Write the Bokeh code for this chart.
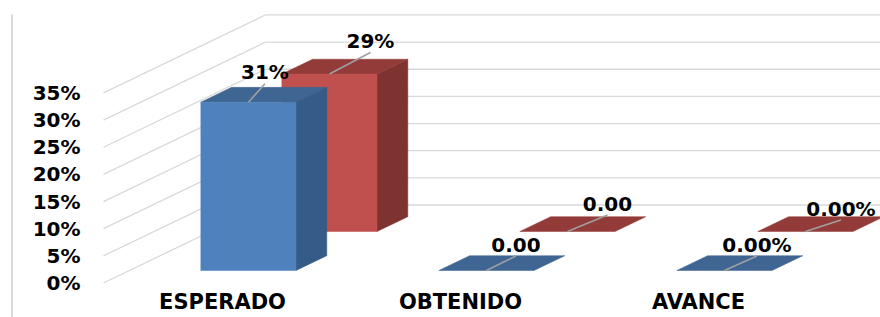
from bokeh.plotting import figure
from bokeh.models import Range1d
from bokeh.core.properties import value
from bokeh.embed import file_html
from bokeh.resources import INLINE

# ---------------- data ----------------
categories = ["ESPERADO", "OBTENIDO", "AVANCE"]
series_a = [31.0, 0.0, 0.0]      # front (blue) series, percent
series_b = [29.0, 0.0, 0.0]      # back (red) series, percent
labels_a = ["31%", "0.00", "0.00%"]
labels_b = ["29%", "0.00", "0.00%"]
y_ticks = [0, 5, 10, 15, 20, 25, 30, 35]
y_tick_labels = ["0%", "5%", "10%", "15%", "20%", "25%", "30%", "35%"]

# ---------------- layout / style ----------------
W, H = 880, 317
PX_X = 238.0          # px per category unit
PX_Y = 5.43           # px per percent
ORIG_X = 103.0        # px of x=0 (front plane)
ORIG_Y = 282.5        # px (from top) of y=0 (front plane)
DX = 162.0 / PX_X     # full depth offset in x units
DY = 78.0 / PX_Y      # full depth offset in y units
BAR_W = 0.4
Z_FRONT = [0.16, 0.66]
Z_DEPTH = 0.19
FONT = "DejaVu Sans"
FSIZE = "20px"
CAT_FSIZE = "21px"
GRID = "#d9d9d9"
COL_A = {"front": "#4F81BD", "side": "#355C89", "top": "#3F6592"}
COL_B = {"front": "#C0504D", "side": "#7E3331", "top": "#923B39"}
# label centre offsets (px) from front-top centre of each bar
OFF_A = [(16.5, -30), (29.5, -26), (32.5, -26)]
OFF_B = [(41, -33), (40, -28), (35.5, -23)]


def px2x(px):
    return (px - ORIG_X) / PX_X


def px2y(py):
    return (ORIG_Y - py) / PX_Y


p = figure(width=W, height=H, output_backend="svg", toolbar_location=None,
           x_range=Range1d(px2x(0), px2x(W)), y_range=Range1d(px2y(H), px2y(0)),
           min_border=0, min_border_left=0, min_border_right=0,
           min_border_top=0, min_border_bottom=0)
p.axis.visible = False
p.grid.visible = False
p.outline_line_color = None
p.background_fill_color = "white"
p.border_fill_color = "white"

# chart border line on the left
p.segment(x0=[px2x(11.5)], y0=[px2y(14)], x1=[px2x(11.5)], y1=[px2y(H + 10)],
          line_color=GRID, line_width=2)

# gridlines: side wall diagonals + back wall horizontals
n = len(categories)
sx0, sy0, sx1, sy1 = [], [], [], []
for t in y_ticks:
    sx0 += [0, DX]
    sy0 += [t, t + DY]
    sx1 += [DX, n + DX + 1]
    sy1 += [t + DY, t + DY]
p.segment(x0=sx0, y0=sy0, x1=sx1, y1=sy1, line_color=GRID, line_width=1.3)


def P(x, y, z):
    return x + z * DX, y + z * DY


def bar_faces(i, v, z0):
    x0, x1 = i + 0.5 - BAR_W / 2, i + 0.5 + BAR_W / 2
    z1 = z0 + Z_DEPTH
    return {
        "side": [P(x1, 0, z0), P(x1, 0, z1), P(x1, v, z1), P(x1, v, z0)],
        "top": [P(x0, v, z0), P(x1, v, z0), P(x1, v, z1), P(x0, v, z1)],
        "front": [P(x0, 0, z0), P(x1, 0, z0), P(x1, v, z0), P(x0, v, z0)],
    }


def draw_series(vals, z0, cols):
    for face in ["side", "top", "front"]:
        xs, ys = [], []
        for i, v in enumerate(vals):
            if face != "top" and v <= 0:
                continue
            pts = bar_faces(i, v, z0)[face]
            xs.append([q[0] for q in pts])
            ys.append([q[1] for q in pts])
        if xs:
            p.patches(xs=xs, ys=ys, fill_color=cols[face],
                      line_color=cols[face], line_width=0.5)


draw_series(series_b, Z_FRONT[1], COL_B)
draw_series(series_a, Z_FRONT[0], COL_A)

# data labels with leader lines
for vals, labs, z0, offs in [(series_b, labels_b, Z_FRONT[1], OFF_B),
                             (series_a, labels_a, Z_FRONT[0], OFF_A)]:
    ax, ay, lx, ly, ex, ey = [], [], [], [], [], []
    for i, v in enumerate(vals):
        x, y = P(i + 0.5, v, z0)
        dxp, dyp = offs[i]
        ax.append(x)
        ay.append(y)
        lx.append(x + dxp / PX_X)
        ly.append(y - dyp / PX_Y)
        ex.append(x + dxp / PX_X)
        ey.append(y - (dyp + 11.5) / PX_Y)
    p.segment(x0=ax, y0=ay, x1=ex, y1=ey, line_color="#a0a0a0", line_width=1.6)
    p.text(x=lx, y=ly, text=labs, text_align="center", text_baseline="middle",
           text_font=value(FONT), text_font_size=FSIZE, text_font_style="bold",
           text_color="black")

# y tick labels (front plane)
p.text(x=[px2x(80)] * len(y_ticks), y=y_ticks, text=y_tick_labels,
       text_align="right", text_baseline="middle", text_font=value(FONT),
       text_font_size=FSIZE, text_font_style="bold", text_color="black")

# category labels
p.text(x=[i + 0.5 for i in range(n)], y=[px2y(301)] * n, text=categories,
       text_align="center", text_baseline="middle", text_font=value(FONT),
       text_font_size=CAT_FSIZE, text_font_style="bold", text_color="black")

open("out.html", "w").write(file_html(p, INLINE))
